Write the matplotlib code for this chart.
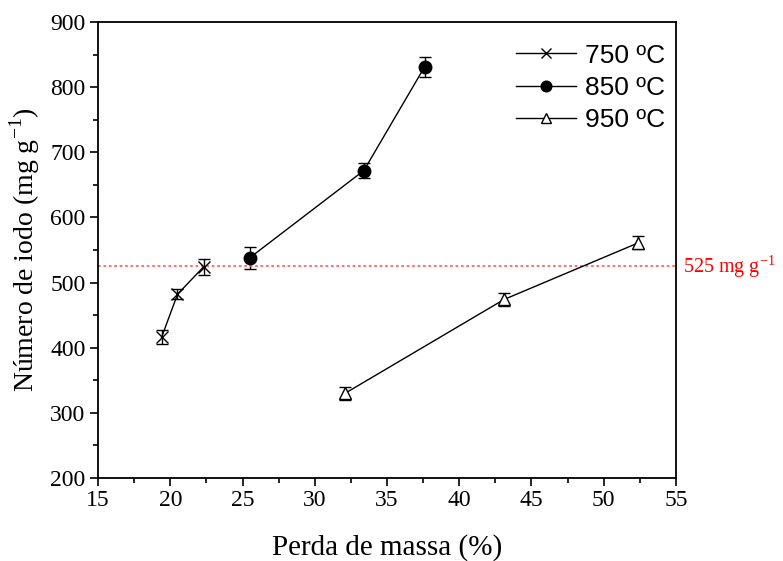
import matplotlib
matplotlib.use("Agg")
import matplotlib.pyplot as plt
from matplotlib.ticker import MultipleLocator

x750 = [19.4, 20.5, 22.3]
y750 = [416, 482, 524]
e750 = [11, 8, 12]
x850 = [25.5, 33.4, 37.6]
y850 = [538, 672, 831]
e850 = [17, 12, 16]
x950 = [32.1, 43.1, 52.4]
y950 = [330, 474, 561]
e950 = [10, 10, 10]
ref_value = 525
labels = ["750 ºC", "850 ºC", "950 ºC"]

plt.rcParams['font.family'] = ['Liberation Serif', 'DejaVu Serif']
plt.rcParams['mathtext.fontset'] = 'custom'
plt.rcParams['mathtext.rm'] = 'Liberation Serif'

fig = plt.figure(figsize=(7.83, 5.61), dpi=100)
ax = fig.add_axes([0.1252, 0.148, 0.7381, 0.8128])

ekw = dict(color='black', lw=1.0, capsize=4, elinewidth=1.0, capthick=1.0)
h1 = ax.errorbar(x750, y750, yerr=e750, marker='x', ms=8, mew=1.0, mfc='none', mec='black', **ekw)
h2 = ax.errorbar(x850, y850, yerr=e850, marker='o', ms=9, mfc='black', mec='black', **ekw)
h3 = ax.errorbar(x950, y950, yerr=e950, marker='^', ms=8, mew=1.0, mfc='white', mec='black', **ekw)

ax.axhline(ref_value, color='#ff6666', lw=1.3, ls=(0, (1.5, 1.5)))
ax.text(1.012, ref_value, "525 mg g$^{\\mathrm{-1}}$", transform=ax.get_yaxis_transform(),
        color='red', fontsize=14.5, va='center', ha='left')

ax.set_xlim(15, 55)
ax.set_ylim(200, 900)
ax.xaxis.set_major_locator(MultipleLocator(5))
ax.xaxis.set_minor_locator(MultipleLocator(2.5))
ax.yaxis.set_major_locator(MultipleLocator(100))
ax.yaxis.set_minor_locator(MultipleLocator(50))
ax.tick_params(which='major', direction='out', length=6, width=1.2, labelsize=17, pad=3)
ax.tick_params(which='minor', direction='out', length=3.5, width=1.2)
for s in ax.spines.values():
    s.set_linewidth(1.3)

ax.set_xlabel("Perda de massa (%)", fontsize=21, labelpad=16)
ax.set_ylabel("Número de iodo (mg g$^{\\mathrm{-1}}$)", fontsize=20, labelpad=6)

leg = ax.legend([h1[0], h2[0], h3[0]], labels, loc='upper right', frameon=False,
                prop={'family': 'Liberation Sans', 'size': 19}, handlelength=2.3,
                handletextpad=0.35, borderaxespad=0.3, labelspacing=0.31,
                markerscale=0.85, bbox_to_anchor=(1.014, 0.993))

fig.savefig("out.png", dpi=100)
